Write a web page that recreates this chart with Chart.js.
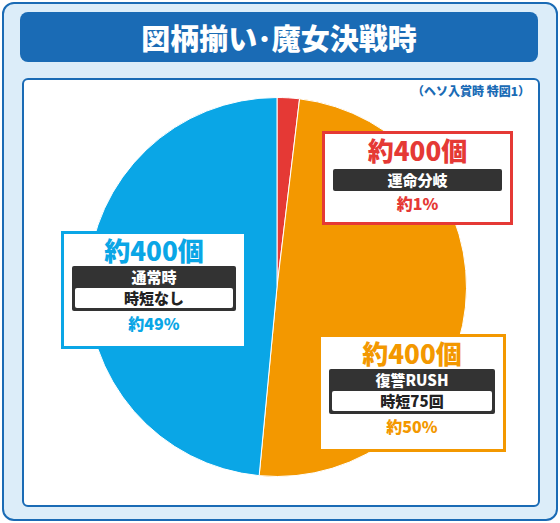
<!DOCTYPE html>
<html><head><meta charset="utf-8">
<script src="https://cdn.jsdelivr.net/npm/chart.js@4"></script>
<style>
body{margin:0;width:560px;height:523px;font-family:"Noto Sans CJK JP",sans-serif;font-weight:900;}
#frame{position:absolute;left:2px;top:2px;width:552px;height:515px;background:#dcedf9;border:2px solid #1a6bb5;border-radius:12px;}
#title{position:absolute;left:20px;top:12px;width:518px;height:50px;background:#1a6bb5;border-radius:8px;color:#fff;font-size:29px;text-align:center;line-height:50px;}
#panel{position:absolute;left:22px;top:78px;width:514px;height:425px;background:#fff;border:2px solid #1a6bb5;border-radius:6px;}
#note{position:absolute;right:30px;top:82px;color:#1a6bb5;font-size:12px;}
#wrap{position:absolute;left:87px;top:97px;width:380px;height:380px;}
.box{position:absolute;background:#fff;border:3px solid;text-align:center;}
.big{font-size:26px;line-height:32px;}
.dark{background:#333;color:#fff;font-size:15px;margin:0 8px;border-radius:2px;line-height:22px;}
.lite{background:#fff;color:#222;font-size:15px;margin:0 10px;border-radius:2px;line-height:20px;}
.pct{font-size:16px;line-height:24px;}
</style></head><body>
<div id="frame"></div>
<div id="title">図柄揃い･魔女決戦時</div>
<div id="panel"></div>
<div id="note">（ヘソ入賞時 特図1）</div>
<div id="wrap"><canvas id="c"></canvas></div>
<div class="box" style="left:322px;top:131px;width:185px;height:88px;border-color:#e53935;color:#e53935">
 <div class="big">約400個</div><div class="dark" style="margin:3px 8px 0">運命分岐</div><div class="pct">約1%</div></div>
<div class="box" style="left:61px;top:231px;width:180px;height:112px;border-color:#0aa6e6;color:#0aa6e6">
 <div class="big">約400個</div><div class="dark" style="padding-bottom:3px">通常時<div class="lite" style="margin:0 3px">時短なし</div></div><div class="pct">約49%</div></div>
<div class="box" style="left:318px;top:334px;width:182px;height:112px;border-color:#f39800;color:#f39800">
 <div class="big">約400個</div><div class="dark" style="padding-bottom:3px">復讐RUSH<div class="lite" style="margin:0 3px">時短75回</div></div><div class="pct">約50%</div></div>
<script>
const categories = ['運命分岐', '復讐RUSH', '通常時'];
const shares = [1.9, 49.6, 48.5];
const colors = ['#e53935', '#f39800', '#0aa6e6'];
new Chart(document.getElementById('c'), {
  type: 'pie',
  data: { labels: categories, datasets: [{ data: shares, backgroundColor: colors, borderColor: '#fff', borderWidth: 1 }] },
  options: { responsive: true, maintainAspectRatio: false, animation: false,
    plugins: { legend: { display: false }, tooltip: { enabled: false } } }
});
</script>
</body></html>
